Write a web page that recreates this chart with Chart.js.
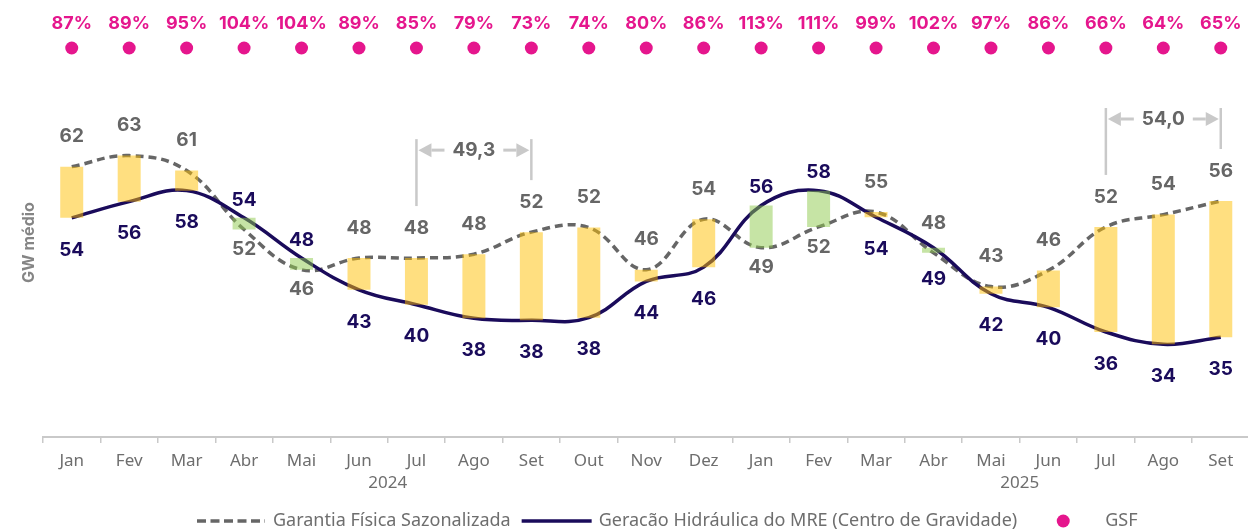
<!DOCTYPE html>
<html>
<head>
<meta charset="utf-8">
<style>
  html, body { margin: 0; padding: 0; overflow: hidden; background: #ffffff; }
  #wrap { width: 1256px; height: 531px; }
</style>
<script src="https://cdn.jsdelivr.net/npm/chart.js@4.4.1/dist/chart.umd.min.js"></script>
</head>
<body>
<div id="wrap"><canvas id="chart"></canvas></div>
<script>
// ---- data ----
const months = ['Jan','Fev','Mar','Abr','Mai','Jun','Jul','Ago','Set','Out','Nov','Dez',
                'Jan','Fev','Mar','Abr','Mai','Jun','Jul','Ago','Set'];
const years = ['2024', '2025'];
// Garantia Física Sazonalizada (GW médio)
const garantia = [61.7, 63.4, 61.1, 52.0, 45.8, 47.6, 47.6, 48.2, 51.6, 52.3, 45.8, 53.6,
                  49.2, 52.4, 54.7, 48.4, 43.2, 45.7, 52.4, 54.3, 56.4];
// Geração Hidráulica do MRE (GW médio)
const geracao = [53.8, 56.3, 58.0, 53.8, 47.6, 42.7, 40.4, 38.3, 38.0, 38.4, 44.0, 46.2,
                 55.7, 58.0, 53.9, 49.2, 42.1, 40.0, 36.2, 34.3, 35.4];
// GSF (%)
const gsf = [87, 89, 95, 104, 104, 89, 85, 79, 73, 74, 80, 86, 113, 111, 99, 102, 97, 86, 66, 64, 65];
// period averages of the Garantia Física (Jul–Set)
const periodNotes = [
  { from: 6,  to: 8,  text: '49,3' },
  { from: 18, to: 20, text: '54,0' }
];

// ---- styles ----
const C_GF = '#666666';
const C_GEN = '#1a0b5b';
const C_GSF = '#e5168d';
const C_AXIS = '#c9c9c9';
const C_TXT = '#6e6e6e';
const BAR_DEF = 'rgba(255,191,1,0.5)';
const BAR_SUP = 'rgba(141,201,75,0.5)';
const LBL_FONT = '700 19px Inter';
const TXT_FONT = '17px "Noto Sans"';
const LEG_FONT = '18px "Noto Sans"';

const deltas = geracao.map((g, i) => [g, garantia[i]]);
const gsfRow = gsf.map(() => 1); // GSF markers sit on one row at the top

const labelsPlugin = {
  id: 'labels',
  afterDatasetsDraw(chart) {
    const ctx = chart.ctx;
    const x = chart.scales.x, y = chart.scales.y, y2 = chart.scales.y2;
    ctx.save();
    ctx.textAlign = 'center';
    ctx.textBaseline = 'middle';
    for (let i = 0; i < months.length; i++) {
      const px = x.getPixelForValue(i);
      const yGF = y.getPixelForValue(garantia[i]);
      const yGen = y.getPixelForValue(geracao[i]);
      const surplus = geracao[i] - garantia[i] > 1;
      ctx.font = LBL_FONT;
      if (surplus) {
        ctx.fillStyle = C_GEN; ctx.fillText(String(Math.round(geracao[i])), px, yGen - 18);
        ctx.fillStyle = C_GF;  ctx.fillText(String(Math.round(garantia[i])), px, yGF + 20);
      } else {
        ctx.fillStyle = C_GF;  ctx.fillText(String(Math.round(garantia[i])), px, yGF - 30);
        ctx.fillStyle = C_GEN; ctx.fillText(String(Math.round(geracao[i])), px, yGen + 32);
      }
      // GSF label
      ctx.font = '700 18px Inter';
      ctx.fillStyle = C_GSF;
      ctx.fillText(gsf[i] + '%', px, y2.getPixelForValue(1) - 24);
    }

    // period brackets
    periodNotes.forEach(n => {
      const xl = x.getPixelForValue(n.from), xr = x.getPixelForValue(n.to);
      const yl = y.getPixelForValue(garantia[n.from]) - 52;
      const yr = y.getPixelForValue(garantia[n.to]) - 52;
      let minY = Infinity;
      for (let k = n.from; k <= n.to; k++) minY = Math.min(minY, y.getPixelForValue(garantia[k]));
      const ya = minY - 82;
      const top = ya - 11;
      ctx.strokeStyle = C_AXIS; ctx.fillStyle = C_AXIS; ctx.lineWidth = 2.5;
      ctx.beginPath(); ctx.moveTo(xl, top); ctx.lineTo(xl, yl); ctx.stroke();
      ctx.beginPath(); ctx.moveTo(xr, top); ctx.lineTo(xr, yr); ctx.stroke();
      const cx = (xl + xr) / 2;
      ctx.font = LBL_FONT;
      const tw = ctx.measureText(n.text).width;
      const tipL = xl + 2, tipR = xr - 2, head = 13, hh = 7;
      ctx.lineWidth = 3;
      ctx.beginPath(); ctx.moveTo(tipL + head, ya); ctx.lineTo(cx - tw / 2 - 8, ya); ctx.stroke();
      ctx.beginPath(); ctx.moveTo(tipL, ya); ctx.lineTo(tipL + head, ya - hh); ctx.lineTo(tipL + head, ya + hh); ctx.closePath(); ctx.fill();
      ctx.beginPath(); ctx.moveTo(cx + tw / 2 + 8, ya); ctx.lineTo(tipR - head, ya); ctx.stroke();
      ctx.beginPath(); ctx.moveTo(tipR, ya); ctx.lineTo(tipR - head, ya - hh); ctx.lineTo(tipR - head, ya + hh); ctx.closePath(); ctx.fill();
      ctx.fillStyle = C_GF;
      ctx.fillText(n.text, cx, ya);
    });

    // year labels
    ctx.font = TXT_FONT;
    ctx.fillStyle = C_TXT;
    const half = (x.getPixelForValue(1) - x.getPixelForValue(0)) / 2;
    ctx.fillText(years[0], x.getPixelForValue(5) + half, 483);
    ctx.fillText(years[1], x.getPixelForValue(16) + half, 483);

    // y axis title
    ctx.save();
    ctx.translate(29, (chart.chartArea.top + chart.chartArea.bottom) / 2);
    ctx.rotate(-Math.PI / 2);
    ctx.font = '700 16px Inter';
    ctx.fillStyle = '#858585';
    ctx.fillText('GW médio', 0, 0);
    ctx.restore();

    // legend
    const ly = 521;
    let lx = 197;
    ctx.textAlign = 'left';
    ctx.font = LEG_FONT;
    ctx.lineWidth = 3.5;
    ctx.strokeStyle = C_GF; ctx.setLineDash([9, 4.5]);
    ctx.beginPath(); ctx.moveTo(lx, ly); ctx.lineTo(lx + 68, ly); ctx.stroke();
    ctx.setLineDash([]);
    lx += 76;
    ctx.fillStyle = C_TXT;
    const t1 = 'Garantia Física Sazonalizada';
    ctx.fillText(t1, lx, ly);
    lx += ctx.measureText(t1).width + 11;
    ctx.strokeStyle = C_GEN;
    ctx.beginPath(); ctx.moveTo(lx, ly); ctx.lineTo(lx + 70, ly); ctx.stroke();
    lx += 77;
    const t2 = 'Geracão Hidráulica do MRE (Centro de Gravidade)';
    ctx.fillText(t2, lx, ly);
    lx += ctx.measureText(t2).width + 46;
    ctx.fillStyle = C_GSF;
    ctx.beginPath(); ctx.arc(lx, ly, 6.5, 0, Math.PI * 2); ctx.fill();
    lx += 42;
    ctx.fillStyle = C_TXT;
    ctx.fillText('GSF', lx, ly);
    ctx.restore();
  }
};

new Chart(document.getElementById('chart'), {
  data: {
    labels: months,
    datasets: [
      {
        type: 'bar', label: 'Diferença', data: deltas, order: 0,
        backgroundColor: deltas.map(d => d[0] > d[1] ? BAR_SUP : BAR_DEF),
        borderWidth: 0, barPercentage: 0.4, categoryPercentage: 1, yAxisID: 'y'
      },
      {
        type: 'line', label: 'Geracão Hidráulica do MRE (Centro de Gravidade)', data: geracao, order: 1,
        borderColor: C_GEN, borderWidth: 3.5, tension: 0.4, pointRadius: 0, fill: false, yAxisID: 'y'
      },
      {
        type: 'line', label: 'Garantia Física Sazonalizada', data: garantia, order: 2,
        borderColor: C_GF, borderWidth: 3.5, borderDash: [8, 5], tension: 0.4, pointRadius: 0, fill: false, yAxisID: 'y'
      },
      {
        type: 'line', label: 'GSF', data: gsfRow, order: 0, showLine: false,
        pointRadius: 6.5, pointBackgroundColor: C_GSF, pointBorderWidth: 0, clip: false, yAxisID: 'y2'
      }
    ]
  },
  options: {
    responsive: true, maintainAspectRatio: false, animation: false,
    layout: { padding: { left: 43, right: 1, top: 48, bottom: 0 } },
    plugins: { legend: { display: false }, tooltip: { enabled: false } },
    scales: {
      x: {
        offset: true,
        grid: { display: true, offset: true, drawOnChartArea: false, drawTicks: true, tickLength: 6, color: C_AXIS, lineWidth: 1.5 },
        border: { display: true, color: C_AXIS, width: 2 },
        ticks: { color: C_TXT, font: { family: 'Noto Sans', size: 17 }, padding: 8, maxRotation: 0, autoSkip: false },
        afterFit: s => { s.height = 94; }
      },
      y: { display: false, min: 20, max: 80 },
      y2: { display: false, min: 0, max: 1 }
    }
  },
  plugins: [labelsPlugin]
});
</script>
</body>
</html>
